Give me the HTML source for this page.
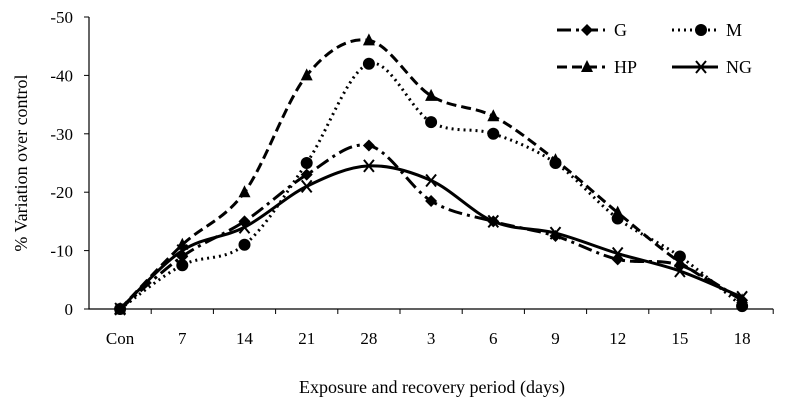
<!DOCTYPE html>
<html><head><meta charset="utf-8"><style>
body{margin:0;background:#fff}
svg text{font-family:"Liberation Serif",serif;fill:#000}
</style></head><body>
<svg id="c" width="804" height="410" xmlns="http://www.w3.org/2000/svg"></svg>
<script>
const categories=["Con","7","14","21","28","3","6","9","12","15","18"];
const yTicks=[0,-10,-20,-30,-40,-50];
const seriesG=[0,9,15,23,28,18.5,15,12.5,8.5,7.5,1.5];
const seriesM=[0,7.5,11,25,42,32,30,25,15.5,9,0.5];
const seriesHP=[0,11,20,40,46,36.5,33,25.5,16.5,8,1.5];
const seriesNG=[0,10,14,21,24.5,22,15,13,9.5,6.5,2];
const svg=document.getElementById('c');
const NS='http://www.w3.org/2000/svg';
const x0=89,step=62.2,y0=309,yPer=5.84;
const X=i=>x0+step*(i+0.5);
const Y=v=>y0-v*yPer;
function el(t,a,p){const e=document.createElementNS(NS,t);for(const k in a)e.setAttribute(k,a[k]);(p||svg).appendChild(e);return e;}
const ax=el('path',{d:`M${x0},${Y(50)}V${y0}H${x0+step*11}`,stroke:'#000','stroke-width':1.2,fill:'none'});


yTicks.forEach(v=>{
 el('line',{x1:x0-5,x2:x0,y1:Y(-v),y2:Y(-v),stroke:'#000'});
 const t=el('text',{x:x0-16,y:Y(-v)+6,'text-anchor':'end','font-size':17});t.textContent=v;
 
 
});
categories.forEach((c,i)=>{
 el('line',{x1:x0+step*(i+1),x2:x0+step*(i+1),y1:y0,y2:y0+5,stroke:'#000'});
 const t=el('text',{x:X(i),y:344,'text-anchor':'middle','font-size':17});t.textContent=c;
 
 
});
let t=el('text',{x:432,y:393,'text-anchor':'middle','font-size':18});t.textContent='Exposure and recovery period (days)';

t=el('text',{x:0,y:0,'text-anchor':'middle','font-size':18,transform:'translate(27,163) rotate(-90)'});t.textContent='% Variation over control';

function smooth(pts){let d=`M${pts[0][0]},${pts[0][1]}`;for(let i=0;i<pts.length-1;i++){const p0=pts[i-1]||pts[i],p1=pts[i],p2=pts[i+1],p3=pts[i+2]||p2;
 d+=`C${p1[0]+(p2[0]-p0[0])/6},${p1[1]+(p2[1]-p0[1])/6} ${p2[0]-(p3[0]-p1[0])/6},${p2[1]-(p3[1]-p1[1])/6} ${p2[0]},${p2[1]}`;}return d;}
function marker(type,x,y,g){
 if(type==='d')el('path',{d:`M${x},${y-6}L${x+6},${y}L${x},${y+6}L${x-6},${y}Z`},g);
 else if(type==='o')el('circle',{cx:x,cy:y,r:6},g);
 else if(type==='t')el('path',{d:`M${x},${y-7}L${x+6},${y+5}L${x-6},${y+5}Z`},g);
 else el('path',{d:`M${x-5},${y-6}L${x+5},${y+6}M${x+5},${y-6}L${x-5},${y+6}`,stroke:'#000','stroke-width':2},g);
}
const defs=[['G',seriesG,'d','14 5 3 5'],['M',seriesM,'o','2 4'],['HP',seriesHP,'t','10 5'],['NG',seriesNG,'x','']];
const legX=[[557,605,614],[672,718,726]];
defs.forEach(([n,vals,m,dash],k)=>{
 const g=el('g',{});
 
 
 const pts=vals.map((v,i)=>[X(i),Y(v)]);
 el('path',{d:smooth(pts),fill:'none',stroke:'#000','stroke-width':3,'stroke-dasharray':dash},g);
 pts.forEach(p=>marker(m,p[0],p[1],g));
 const L=legX[k%2],ly=[30,67][Math.floor(k/2)];
 const lg=el('g',{});
 
 
 el('line',{x1:L[0],x2:L[1],y1:ly,y2:ly,stroke:'#000','stroke-width':3,'stroke-dasharray':dash},lg);
 marker(m,(L[0]+L[1])/2+6,ly,lg);
 const tt=el('text',{x:L[2],y:ly+6,'font-size':18},lg);tt.textContent=n;
});
</script>
</body></html>
